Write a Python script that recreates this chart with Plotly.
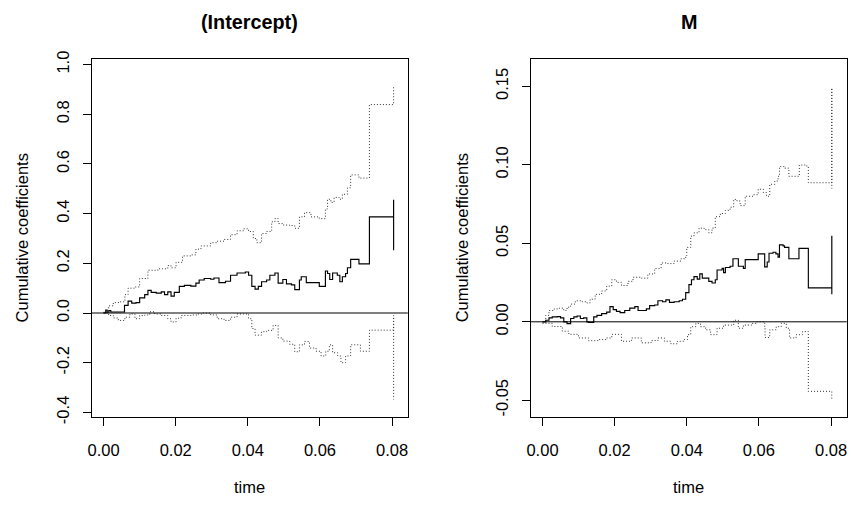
import plotly.graph_objects as go

# ---------------- data: (Intercept) panel ----------------
int_est_t = [0.0000, 0.0006, 0.0010, 0.0015, 0.0020, 0.0058, 0.0068, 0.0078, 0.0090, 0.0100,
             0.0114, 0.0123, 0.0132, 0.0146, 0.0160, 0.0169, 0.0178, 0.0187, 0.0196, 0.0210,
             0.0224, 0.0242, 0.0256, 0.0265, 0.0279, 0.0297, 0.0306, 0.0320, 0.0338, 0.0352,
             0.0370, 0.0393, 0.0402, 0.0411, 0.0420, 0.0429, 0.0438, 0.0452, 0.0461, 0.0475,
             0.0484, 0.0497, 0.0507, 0.0521, 0.0530, 0.0543, 0.0548, 0.0562, 0.0598, 0.0615,
             0.0621, 0.0627, 0.0635, 0.0648, 0.0655, 0.0662, 0.0671, 0.0676, 0.0685, 0.0708,
             0.0737, 0.0804, 0.08041]
int_est_v = [0.000, 0.012, 0.003, 0.010, 0.004, 0.031, 0.048, 0.040, 0.042, 0.061,
             0.074, 0.091, 0.083, 0.080, 0.085, 0.074, 0.085, 0.068, 0.083, 0.107,
             0.111, 0.108, 0.120, 0.133, 0.139, 0.136, 0.141, 0.122, 0.128, 0.152,
             0.161, 0.165, 0.152, 0.107, 0.096, 0.107, 0.126, 0.133, 0.152, 0.161,
             0.120, 0.135, 0.117, 0.113, 0.094, 0.133, 0.146, 0.122, 0.107, 0.169,
             0.159, 0.135, 0.161, 0.152, 0.126, 0.146, 0.159, 0.182, 0.216, 0.198,
             0.387, 0.454, 0.253]

int_up_t = [0.0000, 0.0014, 0.0027, 0.0046, 0.0059, 0.0068, 0.0087, 0.0100, 0.0123, 0.0151,
            0.0178, 0.0187, 0.0201, 0.0219, 0.0242, 0.0256, 0.0270, 0.0297, 0.0315, 0.0334,
            0.0352, 0.0370, 0.0388, 0.0402, 0.0415, 0.0425, 0.0438, 0.0452, 0.0466, 0.0475,
            0.0484, 0.0497, 0.0516, 0.0530, 0.0543, 0.0557, 0.0575, 0.0598, 0.0615, 0.0621,
            0.0630, 0.0639, 0.0653, 0.0662, 0.0676, 0.0685, 0.0708, 0.0737, 0.0804]
int_up_v = [0.003, 0.029, 0.042, 0.045, 0.074, 0.100, 0.105, 0.139, 0.172, 0.178,
            0.191, 0.182, 0.204, 0.230, 0.234, 0.257, 0.270, 0.283, 0.289, 0.296,
            0.315, 0.331, 0.339, 0.328, 0.300, 0.283, 0.320, 0.328, 0.367, 0.380,
            0.360, 0.354, 0.352, 0.341, 0.387, 0.404, 0.387, 0.380, 0.419, 0.458,
            0.445, 0.465, 0.458, 0.478, 0.504, 0.556, 0.543, 0.839, 0.914]

int_lo_t = [0.0000, 0.0014, 0.0027, 0.0041, 0.0059, 0.0073, 0.0087, 0.0100, 0.0114, 0.0128,
            0.0142, 0.0160, 0.0178, 0.0187, 0.0201, 0.0215, 0.0242, 0.0260, 0.0274, 0.0297,
            0.0315, 0.0334, 0.0352, 0.0370, 0.0388, 0.0402, 0.0411, 0.0420, 0.0438, 0.0452,
            0.0470, 0.0484, 0.0497, 0.0516, 0.0530, 0.0543, 0.0557, 0.0571, 0.0589, 0.0603,
            0.0616, 0.0626, 0.0635, 0.0649, 0.0658, 0.0671, 0.0685, 0.0708, 0.0712, 0.0737,
            0.0804, 0.08041]
int_lo_v = [0.000, -0.010, -0.020, -0.030, -0.017, -0.004, -0.023, -0.010, -0.008, 0.005,
            -0.004, -0.010, -0.023, -0.036, -0.021, -0.010, -0.008, -0.004, 0.000, -0.008,
            -0.023, -0.030, -0.017, -0.004, -0.004, -0.023, -0.0625, -0.089, -0.075, -0.070,
            -0.050, -0.100, -0.113, -0.126, -0.156, -0.128, -0.115, -0.141, -0.154, -0.173,
            -0.154, -0.128, -0.160, -0.173, -0.200, -0.173, -0.128, -0.128, -0.154, -0.069,
            -0.010, -0.348]

# ---------------- data: M panel ----------------
m_est_t = [0.0000, 0.0009, 0.0018, 0.0027, 0.0041, 0.0050, 0.0059, 0.0068, 0.0078, 0.0087,
           0.0096, 0.0105, 0.0114, 0.0123, 0.0128, 0.0142, 0.0151, 0.0164, 0.0178, 0.0187,
           0.0196, 0.0205, 0.0215, 0.0228, 0.0242, 0.0256, 0.0265, 0.0274, 0.0288, 0.0297,
           0.0311, 0.0320, 0.0333, 0.0342, 0.0352, 0.0365, 0.0379, 0.0388, 0.0397, 0.0406,
           0.0413, 0.0420, 0.0429, 0.0436, 0.0443, 0.0452, 0.0461, 0.0470, 0.0479, 0.0484,
           0.0498, 0.0502, 0.0507, 0.0520, 0.0528, 0.0539, 0.0543, 0.0557, 0.0562, 0.0594,
           0.0598, 0.0612, 0.0616, 0.0623, 0.0628, 0.0639, 0.0647, 0.0653, 0.0657, 0.0667,
           0.0671, 0.0683, 0.0711, 0.0737, 0.0802, 0.08021]
m_est_v = [0.0000, 0.0010, 0.0025, 0.0031, 0.0033, 0.0025, 0.0000, -0.0012, 0.0021, 0.0031,
           0.0037, 0.0021, 0.0025, 0.0000, -0.0004, 0.0031, 0.0041, 0.0052, 0.0062, 0.0097,
           0.0078, 0.0066, 0.0058, 0.0072, 0.0087, 0.0097, 0.0072, 0.0072, 0.0082, 0.0103,
           0.0107, 0.0134, 0.0128, 0.0140, 0.0124, 0.0128, 0.0134, 0.0144, 0.0186, 0.0237,
           0.0268, 0.0288, 0.0272, 0.0305, 0.0278, 0.0278, 0.0258, 0.0247, 0.0268, 0.0330,
           0.0340, 0.0313, 0.0346, 0.0354, 0.0402, 0.0402, 0.0354, 0.0340, 0.0396, 0.0396,
           0.0433, 0.0433, 0.0350, 0.0381, 0.0437, 0.0443, 0.0433, 0.0412, 0.0490, 0.0484,
           0.0474, 0.0402, 0.0468, 0.0216, 0.0544, 0.0175]

m_up_t = [0.0000, 0.0009, 0.0018, 0.0032, 0.0046, 0.0059, 0.0068, 0.0078, 0.0091, 0.0110,
          0.0123, 0.0132, 0.0146, 0.0164, 0.0178, 0.0192, 0.0205, 0.0219, 0.0237, 0.0251,
          0.0274, 0.0292, 0.0311, 0.0329, 0.0347, 0.0365, 0.0384, 0.0397, 0.0400, 0.0411,
          0.0420, 0.0434, 0.0448, 0.0461, 0.0470, 0.0479, 0.0493, 0.0507, 0.0520, 0.0530,
          0.0539, 0.0548, 0.0562, 0.0584, 0.0598, 0.0612, 0.0621, 0.0630, 0.0644, 0.0653,
          0.0657, 0.0671, 0.0683, 0.0703, 0.0712, 0.0730, 0.0737, 0.0802, 0.08021]
m_up_v = [0.0000, 0.0041, 0.0072, 0.0082, 0.0087, 0.0072, 0.0093, 0.0113, 0.0134, 0.0128,
          0.0120, 0.0144, 0.0175, 0.0196, 0.0227, 0.0268, 0.0251, 0.0231, 0.0258, 0.0284,
          0.0278, 0.0305, 0.0340, 0.0375, 0.0371, 0.0387, 0.0402, 0.0422, 0.0474, 0.0546,
          0.0567, 0.0597, 0.0587, 0.0567, 0.0597, 0.0670, 0.0690, 0.0710, 0.0730, 0.0780,
          0.0770, 0.0740, 0.0800, 0.0810, 0.0845, 0.0824, 0.0800, 0.0876, 0.0897, 0.0927,
          0.0989, 0.0979, 0.0927, 0.0927, 0.0999, 0.0993, 0.0886, 0.1490, 0.0849]

m_lo_t = [0.0000, 0.0027, 0.0055, 0.0073, 0.0100, 0.0128, 0.0155, 0.0178, 0.0192, 0.0219,
          0.0247, 0.0274, 0.0301, 0.0320, 0.0338, 0.0356, 0.0374, 0.0393, 0.0402, 0.0411,
          0.0425, 0.0438, 0.0452, 0.0466, 0.0484, 0.0502, 0.0530, 0.0543, 0.0557, 0.0580,
          0.0594, 0.0616, 0.0617, 0.0630, 0.0648, 0.0662, 0.0676, 0.0685, 0.0703, 0.0721,
          0.0737, 0.0802]
m_lo_v = [-0.0010, -0.0030, -0.0060, -0.0080, -0.0103, -0.0120, -0.0113, -0.0103, -0.0080, -0.0124,
          -0.0103, -0.0134, -0.0120, -0.0103, -0.0124, -0.0140, -0.0124, -0.0113, -0.0082, -0.0031,
          -0.0010, -0.0031, -0.0051, -0.0082, -0.0041, -0.0021, 0.0010, -0.0041, -0.0021, -0.0010,
          0.0000, -0.0031, -0.0100, -0.0051, -0.0031, -0.0010, -0.0041, -0.0103, -0.0082, -0.0062,
          -0.0443, -0.0495]

panel_titles = ["(Intercept)", "M"]
x_ticks = [0.00, 0.02, 0.04, 0.06, 0.08]
x_ticklabels = ["0.00", "0.02", "0.04", "0.06", "0.08"]
int_y_ticks = [-0.4, -0.2, 0.0, 0.2, 0.4, 0.6, 0.8, 1.0]
int_y_ticklabels = ["-0.4", "-0.2", "0.0", "0.2", "0.4", "0.6", "0.8", "1.0"]
m_y_ticks = [-0.05, 0.00, 0.05, 0.10, 0.15]
m_y_ticklabels = ["-0.05", "0.00", "0.05", "0.10", "0.15"]

# ---------------- figure ----------------
FONT = "Liberation Sans, Arial, Helvetica, sans-serif"
W, H = 851, 507
BASE = 16.5
fig = go.Figure()

def add_panel(xa, ya, est_t, est_v, up_t, up_v, lo_t, lo_v):
    for tt, vv in ((up_t, up_v), (lo_t, lo_v)):
        fig.add_trace(go.Scatter(x=tt, y=vv, mode="lines", xaxis=xa, yaxis=ya,
                                 line=dict(color="#333333", width=1, dash="1px,2px", shape="hv"),
                                 showlegend=False, hoverinfo="skip"))
    fig.add_trace(go.Scatter(x=est_t, y=est_v, mode="lines", xaxis=xa, yaxis=ya,
                             line=dict(color="black", width=1.15, shape="hv"),
                             showlegend=False, hoverinfo="skip"))

add_panel("x", "y", int_est_t, int_est_v, int_up_t, int_up_v, int_lo_t, int_lo_v)
add_panel("x2", "y2", m_est_t, m_est_v, m_up_t, m_up_v, m_lo_t, m_lo_v)

px0 = [88.3, 529.3]
px1 = [405.7, 846.7]
ytop, ybot = 52.3, 421.7
ydom = [(H - ybot) / H, (H - ytop) / H]

common_ax = dict(showline=True, mirror=True, linecolor="black", linewidth=1,
                 ticks="outside", ticklen=8, tickwidth=1, tickcolor="black",
                 showgrid=False, zeroline=False,
                 tickfont=dict(family=FONT, size=BASE, color="black"))

fig.update_layout(
    width=W, height=H, margin=dict(l=0, r=0, t=0, b=0),
    paper_bgcolor="white", plot_bgcolor="white",
    xaxis=dict(domain=[px0[0] / W, px1[0] / W], range=[-0.00324, 0.08434],
               tickvals=x_ticks, ticktext=x_ticklabels, anchor="y",
               ticklabelstandoff=10, **common_ax),
    yaxis=dict(domain=ydom, range=[-0.4195, 1.0234], tickvals=int_y_ticks,
               ticktext=int_y_ticklabels, tickangle=-90, anchor="x",
               ticklabelstandoff=7, **common_ax),
    xaxis2=dict(domain=[px0[1] / W, px1[1] / W], range=[-0.00324, 0.08434],
                tickvals=x_ticks, ticktext=x_ticklabels, anchor="y2",
                ticklabelstandoff=10, **common_ax),
    yaxis2=dict(domain=ydom, range=[-0.0608, 0.1676], tickvals=m_y_ticks,
                ticktext=m_y_ticklabels, tickangle=-90, anchor="x2",
                ticklabelstandoff=7, **common_ax),
)

# zero reference lines
for xr, yr in (("x domain", "y"), ("x2 domain", "y2")):
    fig.add_shape(type="line", xref=xr, yref=yr, x0=0, x1=1, y0=0, y1=0,
                  line=dict(color="black", width=1))

# titles and axis labels
for i in range(2):
    cx = (px0[i] + px1[i]) / 2 / W
    fig.add_annotation(text="<b>%s</b>" % panel_titles[i], x=cx, y=1 - 14 / H,
                       xref="paper", yref="paper", showarrow=False,
                       font=dict(family=FONT, size=BASE * 1.2, color="black"),
                       xanchor="center", yanchor="middle")
    fig.add_annotation(text="time", x=cx, y=1 - 494 / H,
                       xref="paper", yref="paper", showarrow=False,
                       font=dict(family=FONT, size=BASE, color="black"),
                       xanchor="center", yanchor="middle")
    lx = [18.5, 460.5][i]
    fig.add_annotation(text="Cumulative coefficients", x=lx / W,
                       y=1 - ((ytop + ybot) / 2) / H,
                       xref="paper", yref="paper", showarrow=False, textangle=-90,
                       font=dict(family=FONT, size=BASE, color="black"),
                       xanchor="center", yanchor="middle")

fig.write_html("out.html")
